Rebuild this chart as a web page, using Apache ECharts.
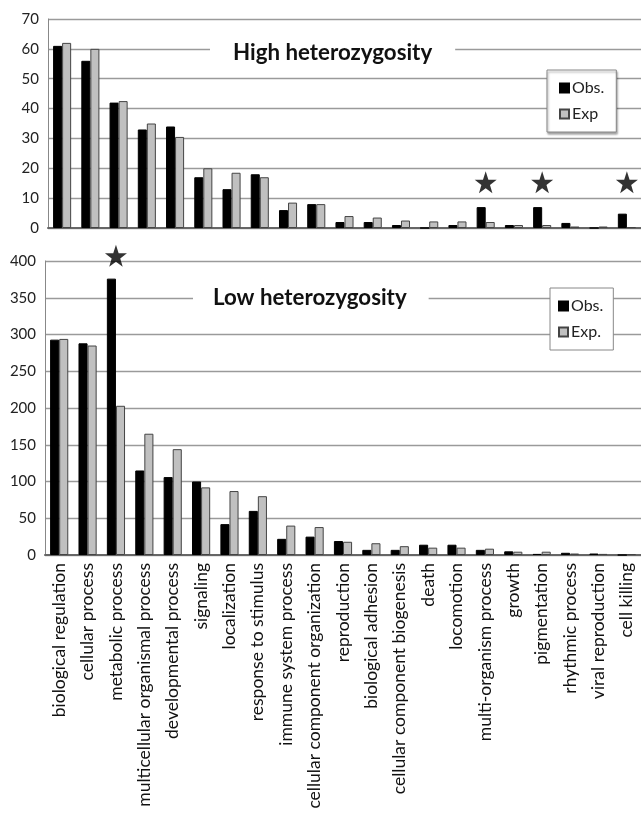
<!DOCTYPE html>
<html>
<head>
<meta charset="utf-8">
<script src="https://cdn.jsdelivr.net/npm/echarts@6/dist/echarts.min.js"></script>
<style>
html,body{margin:0;padding:0;background:#fff;}
#chart{width:641px;height:813px;}
</style>
</head>
<body>
<div id="chart"></div>
<script>
var categories = ['biological regulation','cellular process','metabolic process','multicellular organismal process','developmental process','signaling','localization','response to stimulus','immune system process','cellular component organization','reproduction','biological adhesion','cellular component biogenesis','death','locomotion','multi-organism process','growth','pigmentation','rhythmic process','viral reproduction','cell killing'];
var highObs = [61,56,42,33,34,17,13,18,6,8,2,2,1,0,1,7,1,7,1.7,0,4.8];
var highExp = [62,60,42.5,35,30.5,20,18.5,17,8.5,8,4,3.5,2.5,2.2,2.2,2,1,1,0.5,0.5,0.3];
var lowObs = [293,288,376,115,106,100,42,60,22,25,19,7,7,14,14,7,5,1.5,3,2,0];
var lowExp = [294,285,203,165,144,92,87,80,40,38,18,16,12,10,10,8.6,4.5,4.5,2,1.5,1.2];
var highTicks = {min:0, max:70, interval:10};
var lowTicks = {min:0, max:400, interval:50};
var highStars = ['multi-organism process','pigmentation','cell killing'];
var highStarLevel = 15.3;
var lowStars = ['metabolic process'];
var lowStarLevel = 407;

var FONT = 'Lato';
var STAR = 'path://M50,0 L61.8,35.3 L98.1,35.3 L68.8,57.1 L79.4,92.3 L50,71 L20.6,92.3 L31.2,57.1 L1.9,35.3 L38.2,35.3 Z';

function yAxis(gridIndex, t){
  return {
    type:'value', gridIndex:gridIndex, min:t.min, max:t.max, interval:t.interval,
    axisLine:{show:true, lineStyle:{color:'#888', width:1}},
    axisTick:{show:false},
    splitLine:{lineStyle:{color:'#9a9a9a', width:1.3}},
    axisLabel:{fontFamily:FONT, fontSize:15, color:'#222', margin:9}
  };
}
function xAxis(gridIndex, showLabels){
  return {
    type:'category', gridIndex:gridIndex, data:categories,
    axisLine:{show:true, lineStyle:{color:'#666', width:2}},
    axisTick:{show:false},
    axisLabel:{show:showLabels, rotate:90, interval:0, fontFamily:FONT, fontSize:17.5, color:'#111', margin:8,
               padding:[10,0,0,0]}
  };
}
function bars(name, data, xi, color, border){
  return {
    type:'bar', name:name, data:data, xAxisIndex:xi, yAxisIndex:xi,
    barGap:'0%', barCategoryGap:'36%',
    itemStyle:{color:color, borderColor:border, borderWidth:1},
    emphasis:{disabled:true}
  };
}
function stars(list, level, xi){
  return {
    type:'scatter', xAxisIndex:xi, yAxisIndex:xi, clip:false,
    symbol:STAR, symbolSize:22,
    itemStyle:{color:'#000'},
    data:list.map(function(c){return [c, level];}),
    z:5
  };
}

var chart = echarts.init(document.getElementById('chart'), null, {renderer:'canvas'});
chart.setOption({
  animation:false,
  backgroundColor:'#fff',
  grid:[
    {left:48, right:0, top:19, height:209},
    {left:45, right:0, top:261, height:294}
  ],
  title:[
    {text:'High heterozygosity', left:210, top:38, padding:[4,23,4,23], backgroundColor:'#fff',
     textStyle:{fontFamily:FONT, fontSize:22.3, fontWeight:'bold', color:'#111'}},
    {text:'Low heterozygosity', left:193, top:283, padding:[4,22,4,20], backgroundColor:'#fff',
     textStyle:{fontFamily:FONT, fontSize:22.3, fontWeight:'bold', color:'#111'}}
  ],
  legend:[
    {data:['Obs.','Exp'], orient:'vertical', left:547, top:70, padding:[10,12,10,12], itemGap:10,
     itemWidth:9, itemHeight:9, icon:'rect', backgroundColor:'#fff', borderColor:'#888', borderWidth:1,
     shadowColor:'rgba(0,0,0,0.35)', shadowOffsetX:1, shadowOffsetY:2, shadowBlur:2,
     textStyle:{fontFamily:FONT, fontSize:16, color:'#222', padding:[0,0,0,-2]}},
    {data:['Obs.','Exp.'], orient:'vertical', left:550, top:288, padding:[10,10,10,8], itemGap:10,
     itemWidth:9, itemHeight:9, icon:'rect', backgroundColor:'#fff', borderColor:'#888', borderWidth:1,
     textStyle:{fontFamily:FONT, fontSize:16, color:'#222', padding:[0,0,0,-2]}}
  ],
  xAxis:[xAxis(0,false), xAxis(1,true)],
  yAxis:[yAxis(0, highTicks), yAxis(1, lowTicks)],
  series:[
    bars('Obs.', highObs, 0, '#000', '#000'),
    bars('Exp', highExp, 0, '#c0c0c0', '#444'),
    bars('Obs.', lowObs, 1, '#000', '#000'),
    bars('Exp.', lowExp, 1, '#c0c0c0', '#444'),
    stars(highStars, highStarLevel, 0),
    stars(lowStars, lowStarLevel, 1)
  ]
});
</script>
</body>
</html>
